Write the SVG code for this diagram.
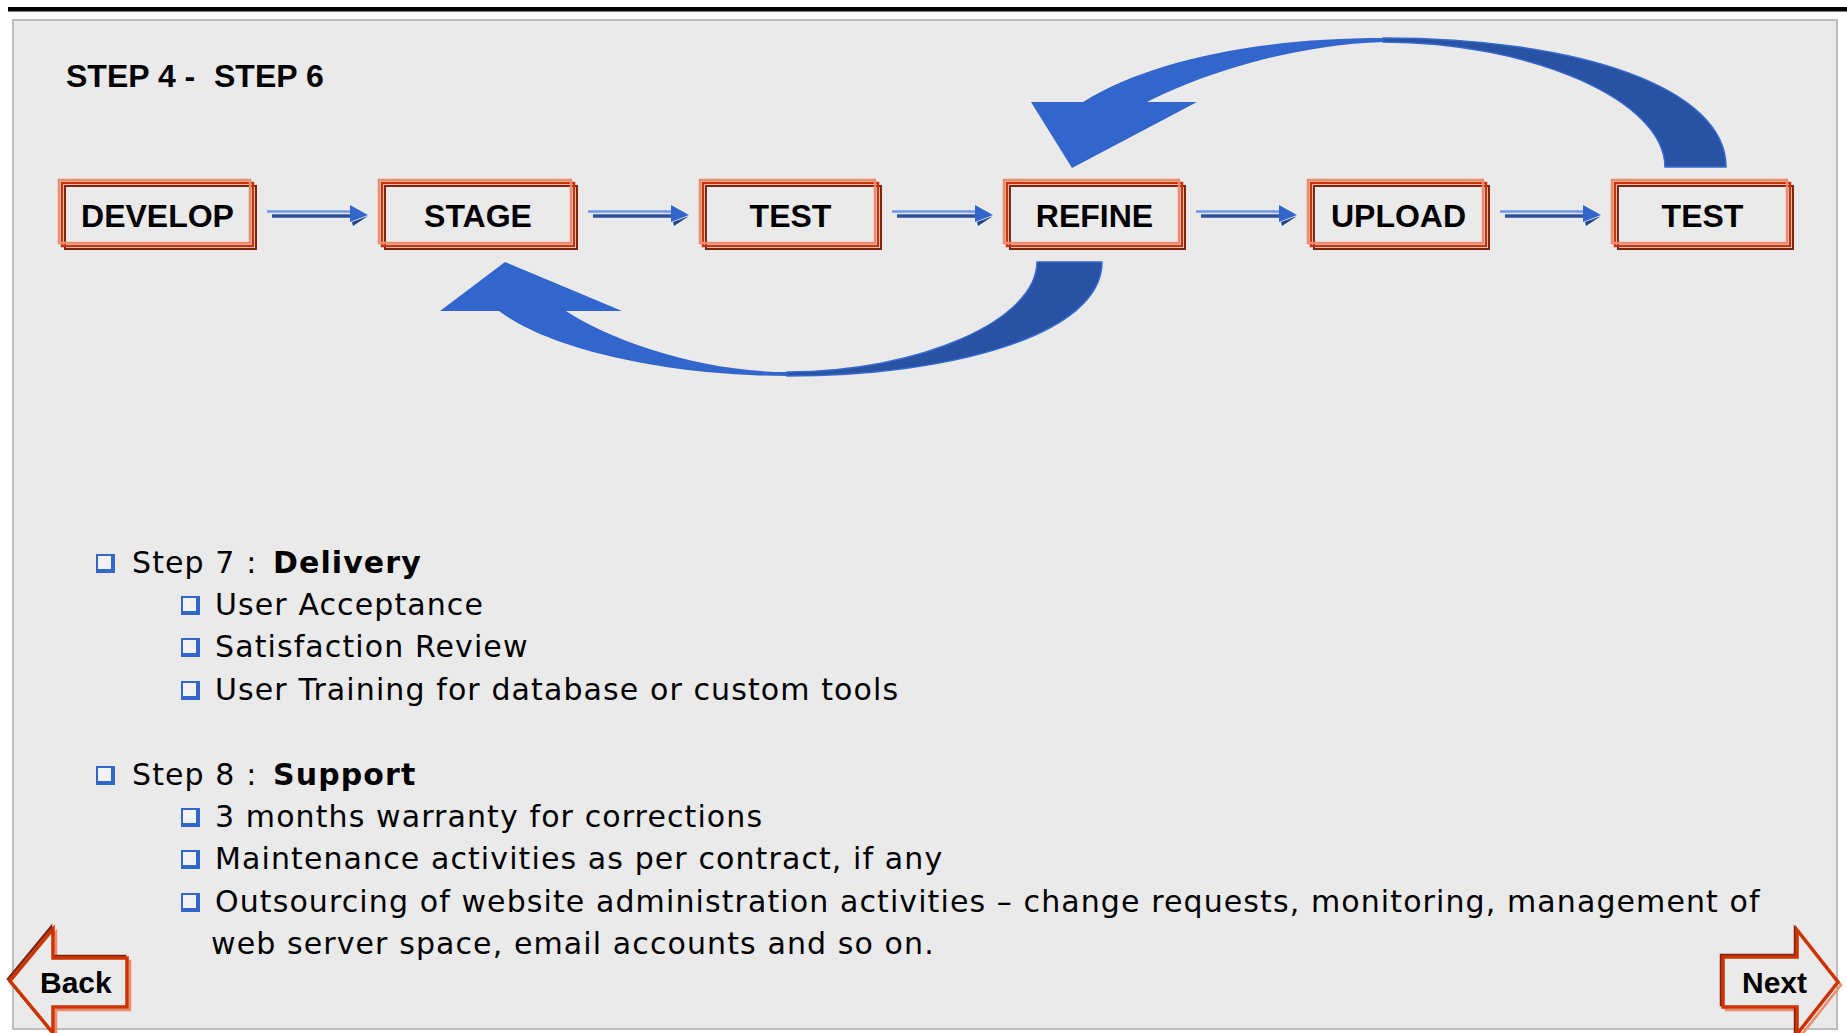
<svg xmlns="http://www.w3.org/2000/svg" width="1847" height="1033" viewBox="0 0 1847 1033">
<style>
.bx-l{fill:none;stroke:#EB8C70;stroke-width:2.5}
.bx-m{fill:none;stroke:#CC3300;stroke-width:2.5}
.bx-d{fill:none;stroke:#7E2410;stroke-width:2}
.lbl{font-family:"Liberation Sans",Arial,sans-serif;font-weight:bold;font-size:32px;fill:#000;text-anchor:middle}
.ttl{font-family:"Liberation Sans",Arial,sans-serif;font-weight:bold;font-size:32px;fill:#000}
.body{font-family:"DejaVu Sans",Verdana,sans-serif;font-size:30px;fill:#000;letter-spacing:1.1px}
.b{font-weight:bold}
.nav{font-family:"Liberation Sans",Arial,sans-serif;font-weight:bold;font-size:30px;fill:#000}
.lt{fill:#3366CC}
.dk{fill:#2A52A3;stroke:#3568D0;stroke-width:1.5}
</style>
<defs>
<g id="sa">
<path d="M0,-2.5H84" stroke="#6C97E8" stroke-width="2.5"/>
<path d="M5,2H84" stroke="#2D4F9E" stroke-width="3.5"/>
<polygon points="85,8 101,2 86,12" fill="#24448F"/>
<polygon points="83,-9 101,1 83,8" fill="#3366CC"/>
</g>
<g id="bul">
<rect x="0" y="0" width="19" height="19" fill="#3366CC"/>
<rect x="2" y="2" width="13" height="13" fill="#F2F2F2"/>
</g>
</defs>
<rect width="1847" height="1033" fill="#FFFFFF"/>
<rect x="8" y="7" width="1839" height="4.5" fill="#000"/>
<rect x="13" y="20" width="1824" height="1009" fill="#EAEAEA" stroke="#BDBDBD" stroke-width="2"/>
<text class="ttl" x="66" y="87">STEP 4 -<tspan x="214">STEP 6</tspan></text>

<g id="connectors">
<use href="#sa" x="267" y="214"/>
<use href="#sa" x="588" y="214"/>
<use href="#sa" x="892" y="214"/>
<use href="#sa" x="1196" y="214"/>
<use href="#sa" x="1500" y="214"/>
<path class="dk" d="M787,372 C920,372 1037,320 1037,262 L1102,262 C1102,335 950,376 787,376 Z"/>
<path class="lt" d="M787,376 C670,376 550,350 499,311 L440,311 L505,262 L622,311 L566,311 C610,340 700,372 787,372 Z"/>
<path class="dk" d="M1383,42 C1530,42 1665,100 1665,167 L1726,167 C1726,88 1580,38 1383,38 Z"/>
<path class="lt" d="M1383,38 C1260,38 1150,60 1083,102 L1031,102 L1072,168 L1197,102 L1147,102 C1200,75 1290,45 1383,42 Z"/>
</g>

<g id="develop">
<rect class="bx-d" x="65" y="186" width="191" height="63"/>
<rect class="bx-m" x="62" y="183" width="191" height="63"/>
<rect class="bx-l" x="59" y="180" width="191" height="63"/>
<text class="lbl" x="157.5" y="227">DEVELOP</text>
</g>
<g id="stage">
<rect class="bx-d" x="385" y="186" width="192" height="63"/>
<rect class="bx-m" x="382" y="183" width="192" height="63"/>
<rect class="bx-l" x="379" y="180" width="192" height="63"/>
<text class="lbl" x="478" y="227">STAGE</text>
</g>
<g id="test1">
<rect class="bx-d" x="706" y="186" width="175" height="63"/>
<rect class="bx-m" x="703" y="183" width="175" height="63"/>
<rect class="bx-l" x="700" y="180" width="175" height="63"/>
<text class="lbl" x="790.5" y="227">TEST</text>
</g>
<g id="refine">
<rect class="bx-d" x="1010" y="186" width="175" height="63"/>
<rect class="bx-m" x="1007" y="183" width="175" height="63"/>
<rect class="bx-l" x="1004" y="180" width="175" height="63"/>
<text class="lbl" x="1094.5" y="227">REFINE</text>
</g>
<g id="upload">
<rect class="bx-d" x="1314" y="186" width="175" height="63"/>
<rect class="bx-m" x="1311" y="183" width="175" height="63"/>
<rect class="bx-l" x="1308" y="180" width="175" height="63"/>
<text class="lbl" x="1398.5" y="227">UPLOAD</text>
</g>
<g id="test2">
<rect class="bx-d" x="1618" y="186" width="175" height="63"/>
<rect class="bx-m" x="1615" y="183" width="175" height="63"/>
<rect class="bx-l" x="1612" y="180" width="175" height="63"/>
<text class="lbl" x="1702.5" y="227">TEST</text>
</g>

<g id="bullets">
<use href="#bul" x="96" y="554"/>
<text class="body" x="132" y="573">Step 7 :<tspan class="b" x="273">Delivery</tspan></text>
<use href="#bul" x="181" y="596"/>
<text class="body" x="215" y="615">User Acceptance</text>
<use href="#bul" x="181" y="638"/>
<text class="body" x="215" y="657">Satisfaction Review</text>
<use href="#bul" x="181" y="681"/>
<text class="body" x="215" y="700">User Training for database or custom tools</text>
<use href="#bul" x="96" y="766"/>
<text class="body" x="132" y="785">Step 8 :<tspan class="b" x="273">Support</tspan></text>
<use href="#bul" x="181" y="808"/>
<text class="body" x="215" y="827">3 months warranty for corrections</text>
<use href="#bul" x="181" y="850"/>
<text class="body" x="215" y="869">Maintenance activities as per contract, if any</text>
<use href="#bul" x="181" y="893"/>
<text class="body" x="215" y="912">Outsourcing of website administration activities – change requests, monitoring, management of</text>
<text class="body" x="211" y="954">web server space, email accounts and so on.</text>
</g>

<g id="back">
<polygon points="10,981 53,929 53,958 127,958 127,1007 53,1007 53,1033" transform="translate(3,3)" fill="none" stroke="#EB8C70" stroke-width="2.5"/>
<polygon points="10,981 53,929 53,958 127,958 127,1007 53,1007 53,1033" transform="translate(-2,-2)" fill="none" stroke="#7E2410" stroke-width="2.5"/>
<polygon points="10,981 53,929 53,958 127,958 127,1007 53,1007 53,1033" fill="#EAEAEA" stroke="#CC3300" stroke-width="3.5"/>
<text class="nav" x="40" y="993">Back</text>
</g>
<g id="next">
<polygon points="1838,982 1797,930 1797,957 1723,957 1723,1007 1797,1007 1797,1034" transform="translate(3,3)" fill="none" stroke="#EB8C70" stroke-width="2.5"/>
<polygon points="1838,982 1797,930 1797,957 1723,957 1723,1007 1797,1007 1797,1034" transform="translate(-2,-2)" fill="none" stroke="#7E2410" stroke-width="2.5"/>
<polygon points="1838,982 1797,930 1797,957 1723,957 1723,1007 1797,1007 1797,1034" fill="#EAEAEA" stroke="#CC3300" stroke-width="3.5"/>
<text class="nav" x="1742" y="993">Next</text>
</g>
</svg>
